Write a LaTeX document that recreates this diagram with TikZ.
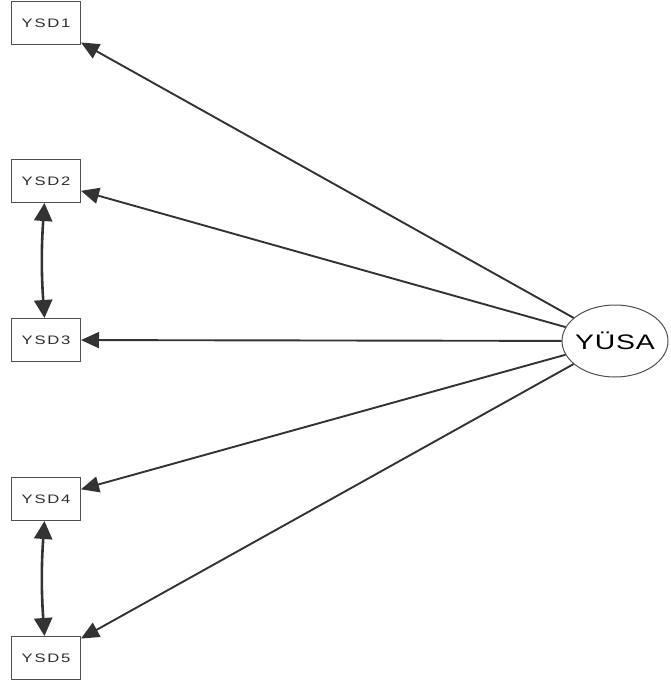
\documentclass[tikz,border=0pt]{standalone}
\usepackage{fontspec}
\setmainfont{Liberation Sans}
\newfontfamily\boxfont[FakeStretch=1.35,LetterSpace=14]{Liberation Sans}
\newfontfamily\latfont[FakeStretch=1.35,LetterSpace=4]{Liberation Sans}
\usetikzlibrary{arrows.meta,shapes.geometric}
\definecolor{linegrey}{RGB}{51,51,51}
\definecolor{framegrey}{RGB}{80,80,80}
\definecolor{textgrey}{RGB}{45,45,45}
\tikzset{
  obs/.style   ={draw=framegrey, line width=1pt, fill=white, minimum width=69pt,
                 minimum height=43pt, inner sep=0pt, text=textgrey,
                 font=\boxfont\fontsize{12.3}{14}\selectfont},
  lat/.style   ={ellipse, draw=framegrey, line width=1pt, fill=white, minimum width=106pt,
                 minimum height=72pt, inner ysep=0pt, inner xsep=-10pt, text=black,
                 font=\latfont\fontsize{21}{24}\selectfont},
  load/.style  ={-{Triangle[length=18pt,width=16pt]}, draw=linegrey, line width=1.9pt},
  cov/.style   ={{Triangle[length=18pt,width=18pt]}-{Triangle[length=18pt,width=18pt]},
                 draw=linegrey, line width=2.6pt},
}
\begin{document}
\begin{tikzpicture}[x=1pt,y=-1pt]
\useasboundingbox (0,0) rectangle (670,685);

% indicators
\node[obs] (ysd1) at (46,23)  {YSD1};
\node[obs] (ysd2) at (46,181) {YSD2};
\node[obs] (ysd3) at (46,340) {YSD3};
\node[obs] (ysd4) at (46,499) {YSD4};
\node[obs] (ysd5) at (46,658) {YSD5};

% latent
\node[lat] (yusa) at (615,341) {YÜSA};

% loadings
\foreach \k in {1,...,5}
  \draw[load] (yusa) -- (ysd\k);

% error covariances
\draw[cov] (ysd2) to[bend right=4] (ysd3);
\draw[cov] (ysd4) to[bend right=4] (ysd5);
\end{tikzpicture}
\end{document}
